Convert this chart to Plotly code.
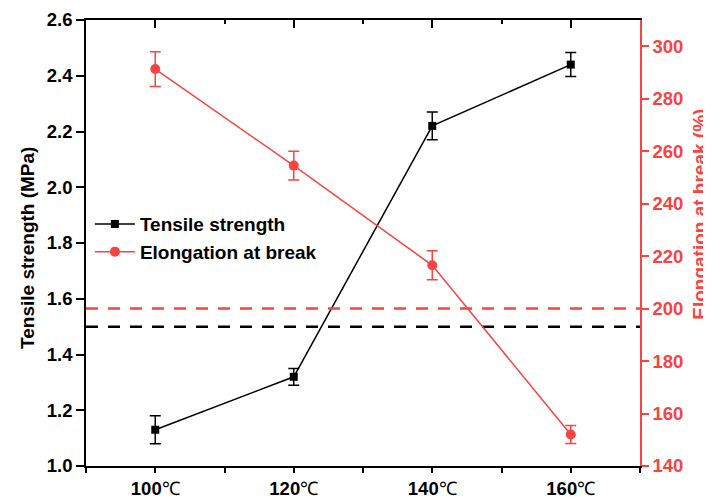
import plotly.graph_objects as go

temps = [100, 120, 140, 160]
tick_labels = ["<b>100</b>℃", "<b>120</b>℃", "<b>140</b>℃", "<b>160</b>℃"]
tensile = [1.13, 1.32, 2.22, 2.44]
tensile_err = [0.05, 0.03, 0.05, 0.043]
elong = [291.3, 254.5, 216.5, 152.0]
elong_err = [6.6, 5.5, 5.5, 3.4]
tensile_ref = 1.5
elong_ref = 200
left_ticks = [1.0, 1.2, 1.4, 1.6, 1.8, 2.0, 2.2, 2.4, 2.6]
right_ticks = [140, 160, 180, 200, 220, 240, 260, 280, 300]

RED = "#F94343"
FONT = "Liberation Sans, Arial, sans-serif"
TICK_SIZE = 18.5
TITLE_SIZE = 19

fig = go.Figure()

fig.add_trace(go.Scatter(
    x=[90, 170], y=[tensile_ref, tensile_ref], mode="lines",
    line=dict(color="black", width=2.5, dash="12px,10px"), showlegend=False, hoverinfo="skip"))
fig.add_trace(go.Scatter(
    x=[90, 170], y=[elong_ref, elong_ref], mode="lines", yaxis="y2",
    line=dict(color=RED, width=2.5, dash="12px,10px"), showlegend=False, hoverinfo="skip"))

fig.add_trace(go.Scatter(
    x=temps, y=tensile, name="<b>Tensile strength</b>", mode="lines+markers",
    line=dict(color="black", width=1.5),
    marker=dict(symbol="square", size=8, color="black"),
    error_y=dict(type="data", array=tensile_err, color="black", thickness=1.5, width=5.5)))
fig.add_trace(go.Scatter(
    x=temps, y=elong, name="<b>Elongation at break</b>", mode="lines+markers", yaxis="y2",
    line=dict(color=RED, width=1.5),
    marker=dict(symbol="circle", size=10, color=RED),
    error_y=dict(type="data", array=elong_err, color=RED, thickness=1.5, width=5.5)))

fig.add_trace(go.Scatter(x=[90, 170], y=[None, None], xaxis="x2", showlegend=False, hoverinfo="skip"))

# page body has an 8px margin, so the figure is sized/offset accordingly
fig.update_layout(
    width=703, height=491,
    margin=dict(l=78, r=71, t=12, b=33),
    plot_bgcolor="white", paper_bgcolor="white",
    font=dict(family=FONT, size=TITLE_SIZE, color="black"),
    xaxis=dict(
        range=[90, 170], tickmode="array", tickvals=temps, ticktext=tick_labels,
        ticks="outside", ticklen=5, tickwidth=1.5, tickcolor="black",
        minor=dict(tickmode="array", tickvals=[90, 110, 130, 150, 170], ticks="outside",
                   ticklen=5, tickwidth=1.5, tickcolor="black"),
        showline=True, linecolor="black", linewidth=1.5, showgrid=False, zeroline=False,
        tickfont=dict(family=FONT, size=TICK_SIZE, color="black"), automargin=False,
    ),
    xaxis2=dict(
        overlaying="x", side="top", range=[90, 170], tickmode="array", tickvals=temps,
        showticklabels=False, ticks="inside", ticklen=8, tickwidth=1.5, tickcolor="black",
        minor=dict(tickmode="array", tickvals=[110, 130, 150], ticks="inside",
                   ticklen=4, tickwidth=1.5, tickcolor="black"),
        showline=True, linecolor="black", linewidth=1.5, showgrid=False, zeroline=False,
        automargin=False,
    ),
    yaxis=dict(
        range=[1.0, 2.6], tickmode="array", tickvals=left_ticks,
        ticktext=["<b>%.1f</b>" % v for v in left_ticks],
        ticks="outside", ticklen=8, tickwidth=1.5, tickcolor="black",
        showline=True, linecolor="black", linewidth=1.5, showgrid=False, zeroline=False,
        tickfont=dict(family=FONT, size=TICK_SIZE, color="black"), automargin=False,
    ),
    yaxis2=dict(
        overlaying="y", side="right", range=[140, 310],
        tickmode="array", tickvals=right_ticks,
        ticktext=["<b>%d</b>" % v for v in right_ticks],
        ticks="outside", ticklen=7, tickwidth=1.5, tickcolor=RED,
        showline=True, linecolor=RED, linewidth=1.5, showgrid=False, zeroline=False,
        tickfont=dict(family=FONT, size=TICK_SIZE, color=RED), automargin=False,
    ),
    legend=dict(
        x=0.007, y=0.585, xanchor="left", yanchor="top",
        bgcolor="rgba(0,0,0,0)", borderwidth=0,
        font=dict(family=FONT, size=TITLE_SIZE, color="black"),
        itemwidth=40, tracegroupgap=0,
    ),
    showlegend=True,
    annotations=[
        dict(text="<b>Tensile strength (MPa)</b>", textangle=-90, xref="paper", yref="paper",
             x=-0.1047, y=0.489, xanchor="center", yanchor="middle", showarrow=False,
             font=dict(family=FONT, size=TITLE_SIZE, color="black")),
        dict(text="<b>Elongation at break (%)</b>", textangle=-90, xref="paper", yref="paper",
             x=1.106, y=0.565, xanchor="center", yanchor="middle", showarrow=False,
             font=dict(family=FONT, size=TITLE_SIZE, color=RED)),
    ],
)

fig.write_html("out.html")
